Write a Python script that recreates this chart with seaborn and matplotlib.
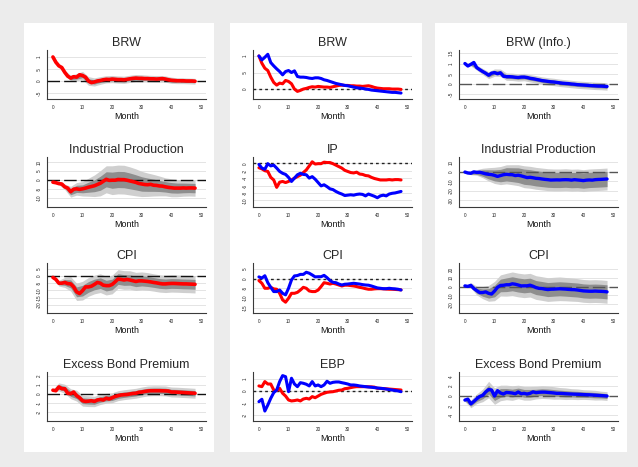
import numpy as np
import matplotlib
matplotlib.use("Agg")
import matplotlib.pyplot as plt
import seaborn as sns
from matplotlib.patches import Rectangle
from matplotlib.ticker import FuncFormatter

sns.set_style("white")
plt.rcParams["font.family"] = ["Liberation Sans", "DejaVu Sans"]

months = np.arange(49)
band_months = months[::2]

# ---- impulse responses to the BRW shock (red) ----
brw_red = [1.0, 0.78, 0.63, 0.56, 0.36, 0.20, 0.12, 0.18, 0.16, 0.26, 0.23, 0.16, 0.0,
           -0.07, -0.04, 0.0, 0.02, 0.05, 0.07, 0.06, 0.08, 0.07, 0.06, 0.06, 0.05, 0.07,
           0.09, 0.11, 0.12, 0.11, 0.11, 0.10, 0.10, 0.09, 0.09, 0.08, 0.09, 0.10, 0.08,
           0.05, 0.03, 0.02, 0.01, 0.01, 0.01, 0.0, 0.0, 0.0, -0.01]
ip_red = [-1.2, -1.5, -2.0, -2.2, -3.8, -4.5, -6.5, -5.1, -4.9, -5.2, -4.9, -4.5, -4.0,
          -3.6, -3.2, -2.5, -1.8, -0.7, 0.4, -0.2, -0.1, -0.1, 0.3, 0.2, 0.2, -0.1, -0.5,
          -0.9, -1.3, -1.9, -2.2, -2.5, -2.6, -2.4, -2.9, -3.0, -3.3, -3.4, -3.8, -4.1,
          -4.3, -4.5, -4.5, -4.5, -4.4, -4.5, -4.4, -4.4, -4.5]
cpi_red = [-1.0, -2.4, -5.0, -5.0, -4.5, -5.3, -5.5, -7.6, -11.0, -12.2, -10.2, -7.6,
           -7.6, -7.1, -5.9, -4.5, -5.0, -6.4, -6.7, -6.7, -5.9, -4.1, -2.1, -2.4, -2.8,
           -2.4, -2.8, -3.3, -3.8, -3.4, -3.4, -3.6, -3.8, -4.1, -4.5, -4.8, -5.2, -5.5,
           -5.5, -5.3, -5.2, -5.2, -5.3, -5.4, -5.5, -5.5, -5.6, -5.7, -5.8]
ebp_red = [0.42, 0.36, 0.78, 0.58, 0.58, 0.08, 0.03, 0.22, -0.19, -0.42, -0.75, -0.83,
           -0.80, -0.75, -0.83, -0.67, -0.61, -0.67, -0.47, -0.56, -0.42, -0.28, -0.19,
           -0.11, -0.08, -0.06, 0.0, 0.06, 0.08, 0.19, 0.22, 0.28, 0.33, 0.36, 0.36, 0.36,
           0.36, 0.35, 0.34, 0.32, 0.22, 0.22, 0.20, 0.18, 0.16, 0.14, 0.12, 0.10, 0.08]

# ---- impulse responses to the informationally robust BRW shock (blue) ----
brw_blue = [1.0, 0.88, 0.96, 1.05, 0.80, 0.70, 0.61, 0.53, 0.43, 0.53, 0.56, 0.50, 0.55,
            0.38, 0.36, 0.36, 0.35, 0.33, 0.32, 0.34, 0.34, 0.32, 0.28, 0.26, 0.23, 0.20,
            0.17, 0.15, 0.13, 0.11, 0.10, 0.08, 0.06, 0.04, 0.03, 0.02, 0.0, -0.01, -0.03,
            -0.04, -0.05, -0.06, -0.07, -0.08, -0.09, -0.10, -0.10, -0.11, -0.12]
ip_blue = [-0.3, -1.3, -1.6, -0.1, -0.7, -0.5, -1.3, -2.2, -2.7, -3.0, -3.8, -4.9, -4.0,
           -3.1, -2.7, -3.0, -3.1, -4.0, -3.6, -4.3, -5.2, -6.1, -5.8, -6.3, -6.9, -7.1,
           -7.6, -8.0, -8.3, -8.7, -8.6, -8.5, -8.6, -8.4, -8.3, -8.4, -8.8, -8.3, -8.6,
           -8.9, -9.3, -8.8, -8.6, -8.8, -8.3, -8.1, -8.0, -7.8, -7.6]
cpi_blue = [0.9, 0.3, 1.5, -2.1, -4.5, -6.7, -6.7, -5.9, -7.6, -8.4, -5.0, -0.7, 1.4, 1.6,
            2.2, 2.2, 3.3, 2.8, 1.9, 0.9, 1.0, 1.0, 1.7, 0.5, -1.0, -1.9, -2.1, -2.8, -3.3,
            -2.9, -2.8, -2.6, -2.4, -2.6, -2.8, -3.1, -3.3, -3.4, -3.8, -4.3, -4.8, -5.0,
            -5.2, -5.2, -5.0, -5.2, -5.3, -5.5, -5.9]
ebp_blue = [-0.89, -0.69, -1.67, -1.17, -0.61, -0.14, 0.08, 0.78, 1.28, 1.19, -0.06, 1.06,
            0.58, 0.36, 0.69, 0.64, 0.56, 0.42, 0.78, 0.42, 0.50, 0.36, 0.50, 0.81, 0.64,
            0.72, 0.75, 0.75, 0.69, 0.64, 0.58, 0.50, 0.50, 0.47, 0.42, 0.39, 0.36, 0.33,
            0.31, 0.28, 0.25, 0.22, 0.20, 0.16, 0.12, 0.08, 0.04, 0.0, -0.06]

# ---- half-widths of the 90% (outer) and 68% (inner) bands, every second month ----
brw_red_outer = [0.0, 0.04, 0.08, 0.12, 0.15, 0.17, 0.18, 0.17, 0.16, 0.15, 0.15, 0.15, 0.15,
                 0.15, 0.15, 0.15, 0.14, 0.14, 0.14, 0.13, 0.13, 0.12, 0.12, 0.12, 0.12]
brw_red_inner = [0.0, 0.02, 0.04, 0.06, 0.08, 0.09, 0.09, 0.09, 0.08, 0.08, 0.08, 0.08, 0.08,
                 0.08, 0.08, 0.08, 0.07, 0.07, 0.07, 0.07, 0.07, 0.06, 0.06, 0.06, 0.06]
ip_red_outer = [0.0, 0.5, 1.5, 3.0, 3.5, 4.0, 5.0, 6.0, 7.0, 7.5, 8.0, 8.0, 8.0, 7.8, 7.5,
                7.0, 6.5, 6.0, 5.5, 5.0, 5.0, 4.8, 4.6, 4.5, 4.5]
ip_red_inner = [0.0, 0.3, 0.8, 1.7, 2.0, 2.2, 2.8, 3.3, 3.9, 4.2, 4.5, 4.5, 4.5, 4.4, 4.2,
                4.0, 3.7, 3.4, 3.1, 2.9, 2.9, 2.8, 2.7, 2.6, 2.6]
cpi_red_outer = [0.0, 2.0, 3.5, 5.0, 6.0, 6.5, 6.5, 6.5, 6.5, 6.5, 6.5, 6.5, 6.5, 6.4, 6.3,
                 6.2, 6.1, 6.0, 6.0, 6.0, 6.0, 6.0, 6.0, 6.0, 6.0]
cpi_red_inner = [0.0, 1.1, 2.0, 2.8, 3.4, 3.7, 3.7, 3.7, 3.7, 3.7, 3.7, 3.7, 3.7, 3.6, 3.6,
                 3.5, 3.5, 3.4, 3.4, 3.4, 3.4, 3.4, 3.4, 3.4, 3.4]
ebp_red_outer = [0.10, 0.45, 0.50, 0.55, 0.60, 0.60, 0.60, 0.58, 0.56, 0.55, 0.55, 0.55,
                 0.55, 0.55, 0.55, 0.55, 0.55, 0.55, 0.55, 0.55, 0.55, 0.55, 0.55, 0.55, 0.55]
ebp_red_inner = [0.05, 0.25, 0.27, 0.30, 0.32, 0.32, 0.32, 0.31, 0.30, 0.30, 0.30, 0.30,
                 0.30, 0.30, 0.30, 0.30, 0.30, 0.30, 0.30, 0.30, 0.30, 0.30, 0.30, 0.30, 0.30]

brw_blue_outer = [0.0, 0.08, 0.12, 0.15, 0.17, 0.18, 0.18, 0.18, 0.18, 0.18, 0.18, 0.18, 0.18,
                  0.18, 0.18, 0.18, 0.18, 0.18, 0.18, 0.18, 0.18, 0.18, 0.18, 0.18, 0.18]
brw_blue_inner = [0.0, 0.04, 0.06, 0.08, 0.09, 0.09, 0.09, 0.09, 0.09, 0.09, 0.09, 0.09, 0.09,
                  0.09, 0.09, 0.09, 0.09, 0.09, 0.09, 0.09, 0.09, 0.09, 0.09, 0.09, 0.09]
ip_blue_outer = [0.3, 1.5, 3.0, 5.0, 7.0, 8.5, 9.5, 10.0, 10.5, 11.0, 11.5, 11.5, 11.5, 11.5,
                 11.5, 11.5, 11.5, 11.5, 11.5, 11.5, 11.5, 11.5, 11.5, 11.5, 11.5]
ip_blue_inner = [0.2, 1.0, 2.0, 3.4, 4.8, 5.8, 6.5, 7.0, 7.3, 7.7, 8.0, 8.0, 8.0, 8.0, 8.0,
                 8.0, 8.0, 8.0, 8.0, 8.0, 8.0, 8.0, 8.0, 8.0, 8.0]
cpi_blue_outer = [0.5, 3.0, 5.0, 7.0, 9.0, 11.0, 12.0, 13.0, 13.5, 13.5, 13.5, 13.5, 13.5,
                  13.5, 13.5, 13.5, 13.5, 13.3, 13.2, 13.0, 13.0, 13.0, 13.0, 13.0, 13.0]
cpi_blue_inner = [0.3, 1.8, 3.0, 4.2, 5.4, 6.6, 7.2, 7.8, 8.0, 8.0, 8.0, 8.0, 8.0, 8.0, 8.0,
                  8.0, 8.0, 8.0, 8.0, 8.0, 8.0, 8.0, 8.0, 8.0, 8.0]
ebp_blue_outer = [0.3, 0.8, 1.0, 1.3, 1.7, 1.7, 1.6, 1.5, 1.5, 1.4, 1.4, 1.4, 1.3, 1.3, 1.3,
                  1.3, 1.2, 1.2, 1.1, 1.1, 1.0, 1.0, 1.0, 0.9, 0.9]
ebp_blue_inner = [0.15, 0.45, 0.55, 0.7, 0.9, 0.9, 0.9, 0.8, 0.8, 0.8, 0.8, 0.8, 0.7, 0.7,
                  0.7, 0.7, 0.65, 0.65, 0.6, 0.6, 0.55, 0.55, 0.55, 0.5, 0.5]

col1_titles = ["BRW", "Industrial Production", "CPI", "Excess Bond Premium"]
col2_titles = ["BRW", "IP", "CPI", "EBP"]
col3_titles = ["BRW (Info.)", "Industrial Production", "CPI", "Excess Bond Premium"]

RED = "#ff0000"
BLUE = "#0000ff"
LIGHT = "#cfcfcf"
DARK = "#8e8e8e"

W, H = 638, 467
fig = plt.figure(figsize=(W / 100, H / 100), dpi=100)
fig.patch.set_facecolor("#ececec")

# white cards behind each column (kept below every axes)
for (x0, x1) in [(24, 214), (230, 422), (435, 627)]:
    fig.patches.append(Rectangle((x0 / W, 1 - 452 / H), (x1 - x0) / W, (452 - 23) / H,
                                 transform=fig.transFigure, facecolor="white",
                                 edgecolor="none", zorder=-10))

col_left = [47, 253, 459]
ax_w = 159
rows = [(50, 99), (157, 207), (263, 313), (372, 421)]

ylims = [
    [(-0.75, 1.29), (-15, 12.8), (-25.7, 9.0), (-3.0, 2.44)],
    [(-0.30, 1.18), (-11.8, 1.7), (-17.8, 8.1), (-2.5, 1.58)],
    [(-0.73, 1.66), (-37, 15.5), (-30, 27), (-5.2, 4.9)],
]
yticks = [
    [[-0.5, 0, 0.5, 1], [-10, -5, 0, 5, 10], [-20, -15, -10, -5, 0, 5], [-2, -1, 0, 1, 2]],
    [[0, 0.5, 1], [-10, -8, -6, -4, -2, 0], [-15, -10, -5, 0, 5], [-2, -1, 0, 1]],
    [[-0.5, 0, 0.5, 1, 1.5], [-30, -20, -10, 0, 10], [-20, -10, 0, 10, 20], [-4, -2, 0, 2, 4]],
]


def stata_fmt(v, _pos):
    s = f"{v:g}"
    if s.startswith("0.") and len(s) > 2:
        s = s[1:]
    elif s.startswith("-0."):
        s = "-" + s[2:]
    return s


def make_axes(c, r):
    top, bot = rows[r]
    ax = fig.add_axes([col_left[c] / W, 1 - bot / H, ax_w / W, (bot - top) / H])
    ax.set_facecolor("none")
    ax.set_xlim(-2, 51.7)
    ax.set_ylim(*ylims[c][r])
    ax.set_xticks([0, 10, 20, 30, 40, 50])
    ax.set_yticks(yticks[c][r])
    ax.yaxis.set_major_formatter(FuncFormatter(stata_fmt))
    for side in ("top", "right"):
        ax.spines[side].set_visible(False)
    for side in ("left", "bottom"):
        ax.spines[side].set_color("#3a3a3a")
        ax.spines[side].set_linewidth(0.8)
    ax.tick_params(axis="both", direction="out", length=2.5, width=0.6,
                   color="#3a3a3a", labelsize=3.3, pad=1.5, labelcolor="#222222")
    for lab in ax.get_yticklabels():
        lab.set_rotation(90)
        lab.set_va("center")
    ax.set_axisbelow(True)
    ax.grid(axis="y", color="#e4e4e4", linewidth=0.7)
    ax.grid(axis="x", visible=False)
    return ax


def draw_bands(ax, median, outer, inner):
    med = np.asarray(median)[::2]
    ax.fill_between(band_months, med - np.asarray(outer), med + np.asarray(outer),
                    color=LIGHT, linewidth=0, zorder=1)
    ax.fill_between(band_months, med - np.asarray(inner), med + np.asarray(inner),
                    color=DARK, linewidth=0, zorder=2)


def finish(ax, title):
    ax.set_title(title, fontsize=9, pad=3)
    ax.set_xlabel("Month", fontsize=6.4, labelpad=1.5, color="#111111")
    ax.set_ylabel("")


reds = [brw_red, ip_red, cpi_red, ebp_red]
blues = [brw_blue, ip_blue, cpi_blue, ebp_blue]
red_bands = [(brw_red_outer, brw_red_inner), (ip_red_outer, ip_red_inner),
             (cpi_red_outer, cpi_red_inner), (ebp_red_outer, ebp_red_inner)]
blue_bands = [(brw_blue_outer, brw_blue_inner), (ip_blue_outer, ip_blue_inner),
              (cpi_blue_outer, cpi_blue_inner), (ebp_blue_outer, ebp_blue_inner)]

for r in range(4):
    # left column: BRW shock with error bands
    ax = make_axes(0, r)
    draw_bands(ax, reds[r], *red_bands[r])
    ax.axhline(0, color="#111111", lw=1.0, dashes=(9, 3), zorder=3)
    sns.lineplot(x=months, y=reds[r], ax=ax, color=RED, lw=2.6, zorder=4)
    finish(ax, col1_titles[r])

    # middle column: both shocks compared
    ax = make_axes(1, r)
    ax.axhline(0, color="#222222", lw=1.0, dashes=(2, 2.2), zorder=3)
    sns.lineplot(x=months, y=reds[r], ax=ax, color=RED, lw=2.2, zorder=4)
    sns.lineplot(x=months, y=blues[r], ax=ax, color=BLUE, lw=2.2, zorder=5)
    finish(ax, col2_titles[r])

    # right column: informationally robust shock with error bands
    ax = make_axes(2, r)
    draw_bands(ax, blues[r], *blue_bands[r])
    ax.axhline(0, color="#555555", lw=1.0, dashes=(9, 3), zorder=3)
    sns.lineplot(x=months, y=blues[r], ax=ax, color=BLUE, lw=2.4, zorder=4)
    finish(ax, col3_titles[r])

fig.savefig("out.png", dpi=100, facecolor=fig.get_facecolor())
